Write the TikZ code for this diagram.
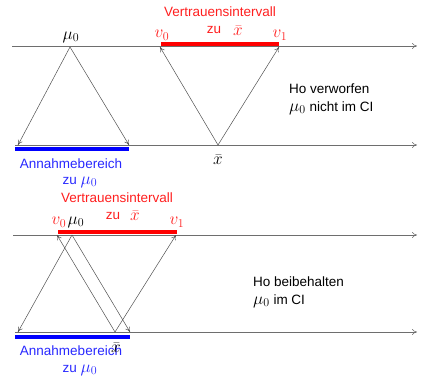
\documentclass[tikz,border=0pt]{standalone}
\usepackage{fontspec}
\setmainfont{Liberation Sans}
\usetikzlibrary{arrows.meta}
\definecolor{axisgray}{RGB}{110,110,110}
\definecolor{raygray}{RGB}{80,80,80}
\definecolor{txtred}{RGB}{255,30,30}
\definecolor{txtblue}{RGB}{40,40,255}
\newcommand{\bigmath}[1]{{\fontsize{18}{20}\selectfont$#1$}}
\begin{document}
\begin{tikzpicture}[x=1pt,y=-1pt,
  font=\fontsize{13.5}{16}\selectfont,
  axis/.style={draw=axisgray, line width=0.6pt, -{To[length=5pt,width=6pt]}},
  ray/.style={draw=raygray, line width=0.5pt, -{To[length=5pt,width=5pt]}},
  redbar/.style={draw=red, line width=3.5pt},
  bluebar/.style={draw=blue, line width=3.5pt},
  lbl/.style={inner sep=0pt},
  redlbl/.style={inner sep=0pt, text=txtred},
  bluelbl/.style={inner sep=0pt, text=txtblue}]
\useasboundingbox (0,0) rectangle (423,377);
% ---------- top section ----------
\coordinate (t1s) at (12,46);  \coordinate (t1e) at (417,46);
\coordinate (b1s) at (15,145); \coordinate (b1e) at (417,145);
\draw[axis] (t1s) -- (t1e);
\draw[axis] (b1s) -- (b1e);
\coordinate (mu1) at (70,47);
\coordinate (L1) at (18,145);
\coordinate (R1) at (129,145);
\coordinate (xb1) at (218,145);
\coordinate (va1) at (160,47);
\coordinate (vb1) at (279,47);
\coordinate (rs1) at (161,44); \coordinate (re1) at (279,44);
\coordinate (bs1) at (15,149); \coordinate (be1) at (129,149);
\draw[redbar] (rs1) -- (re1);
\draw[bluebar] (bs1) -- (be1);
\draw[ray] (mu1) -- (L1);
\draw[ray] (mu1) -- (R1);
\draw[ray] (xb1) -- (va1);
\draw[ray] (xb1) -- (vb1);
\node[lbl] (mulbl1) at (71,37) {\bigmath{\mu_0}};
\node[redlbl] (v0lbl1) at (162,35) {\bigmath{v_0}};
\node[redlbl] (v1lbl1) at (280,35) {\bigmath{v_1}};
\node[redlbl] (vi1) at (220,12) {Vertrauensintervall};
\node[redlbl] (zu1) at (214,30) {zu};
\node[redlbl] (zux1) at (238,31) {\bigmath{\bar{x}}};
\node[lbl] (xlbl1) at (218,160) {\bigmath{\bar{x}}};
\node[bluelbl] (ab1) at (71,164) {Annahmebereich};
\node[bluelbl] (abz1) at (80,182) {zu \bigmath{\mu_0}};
\node[lbl, anchor=west] (ho1) at (289,89) {Ho verworfen};
\node[lbl, anchor=west] (ci1) at (289,108) {\bigmath{\mu_0} nicht im CI};
% ---------- bottom section ----------
\coordinate (t2s) at (13,235); \coordinate (t2e) at (417,235);
\coordinate (b2s) at (15,332); \coordinate (b2e) at (417,332);
\draw[axis] (t2s) -- (t2e);
\draw[axis] (b2s) -- (b2e);
\coordinate (mu2) at (72,235);
\coordinate (L2) at (18,332);
\coordinate (R2) at (130,332);
\coordinate (xb2) at (115,332);
\coordinate (va2) at (57,235);
\coordinate (vb2) at (176,235);
\coordinate (rs2) at (58,232); \coordinate (re2) at (177,232);
\coordinate (bs2) at (15,337); \coordinate (be2) at (130,337);
\draw[redbar] (rs2) -- (re2);
\draw[bluebar] (bs2) -- (be2);
\draw[ray] (mu2) -- (L2);
\draw[ray] (mu2) -- (R2);
\draw[ray] (xb2) -- (va2);
\draw[ray] (xb2) -- (vb2);
\node[redlbl] (v0lbl2) at (59,222) {\bigmath{v_0}};
\node[lbl] (mulbl2) at (76,222) {\bigmath{\mu_0}};
\node[redlbl] (v1lbl2) at (177,222) {\bigmath{v_1}};
\node[redlbl] (vi2) at (117,198) {Vertrauensintervall};
\node[redlbl] (zu2) at (113,216) {zu};
\node[redlbl] (zux2) at (135,216) {\bigmath{\bar{x}}};
\node[bluelbl] (ab2) at (71,351) {Annahmebereich};
\node[lbl] (xlbl2) at (116,348) {\bigmath{\bar{x}}};
\node[bluelbl] (abz2) at (80,370) {zu \bigmath{\mu_0}};
\node[lbl, anchor=west] (ho2) at (253,282) {Ho beibehalten};
\node[lbl, anchor=west] (ci2) at (253,301) {\bigmath{\mu_0} im CI};
\end{tikzpicture}
\end{document}
